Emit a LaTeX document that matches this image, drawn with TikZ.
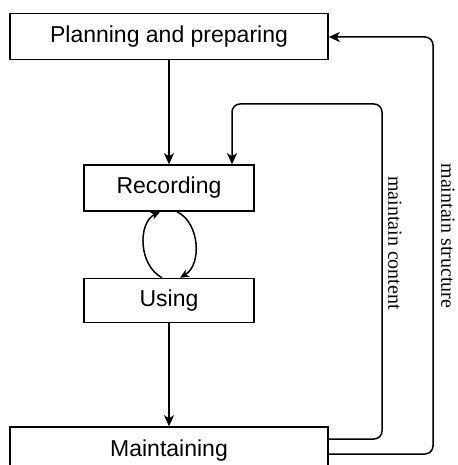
\documentclass[tikz,border=0pt]{standalone}
\usepackage{fontspec}
\setmainfont{Liberation Serif}
\setsansfont{Liberation Sans}
\usetikzlibrary{positioning,arrows.meta}

\begin{document}
\begin{tikzpicture}[x=1pt, y=1pt, line width=1.5pt,
		stagebox/.style={rectangle, draw, minimum height=46pt, inner sep=0pt,
			font=\sffamily\fontsize{23}{27}\selectfont},
		flow/.style={-{Stealth[length=11pt, width=10pt, inset=3pt]}},
		swap/.style={-{Stealth[length=9pt, width=8pt, inset=2.5pt]}},
		looplabel/.style={rotate=-90, font=\fontsize{20}{24}\selectfont}]
	\useasboundingbox (0,0) rectangle (457,-465);

	\node[stagebox, minimum width=318pt] (plan) at (169,-36.5) {Planning and preparing};
	\node[stagebox, minimum width=170pt] (rec) [below=104pt of plan] {Recording};
	\node[stagebox, minimum width=170pt, minimum height=44pt] (use) [below=66pt of rec] {Using};
	\node[stagebox, minimum width=318pt, minimum height=48pt] (maint) [below=103pt of use] {Maintaining};

	% corners of the two feedback loops
	\coordinate (c1) at (382,-439);
	\coordinate (c2) at (382,-104);
	\coordinate (c3) at (232,-104);
	\coordinate (s1) at (433,-454);
	\coordinate (s2) at (433,-37);

	\path[flow]
		(plan) edge (rec)
		(use) edge (maint)
	;
	\draw[swap] ([xshift=-7pt]use.north) .. controls +(-24,13) and +(-22,-11) .. ([xshift=-9pt]rec.south);
	\draw[swap] ([xshift=8pt]rec.south) .. controls +(23,-11) and +(22,13) .. ([xshift=11pt]use.north);

	\draw[flow, rounded corners=8pt] (maint.east |- c1) -- (c1) -- (c2) -- (c3) -- (c3 |- rec.north);
	\draw[flow, rounded corners=8pt] (maint.east |- s1) -- (s1) -- (s2) -- (plan.east |- s2);

	\node[looplabel] (content) at (395,-243) {maintain content};
	\node[looplabel] (structure) at (448,-236) {maintain structure};
\end{tikzpicture}
\end{document}
